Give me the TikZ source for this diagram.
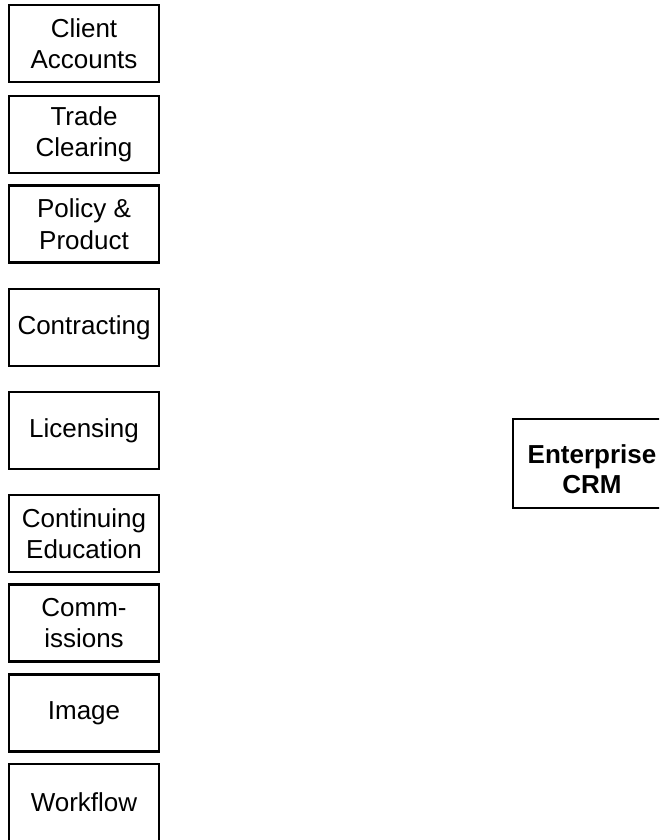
\documentclass[tikz,border=0pt]{standalone}
\usepackage{fontspec}
\setmainfont{Liberation Sans}
\tikzset{
  unit/.style={draw=black, line width=2.2pt, fill=white, minimum width=150pt,
    minimum height=77pt, inner sep=0pt, outer sep=0pt, align=center,
    font=\fontsize{26}{31.5}\selectfont},
  hub/.style={draw=black, line width=2.6pt, fill=white, minimum width=158pt,
    minimum height=89pt, inner sep=0pt, outer sep=0pt},
  hubtext/.style={inner sep=0pt, align=center,
    font=\fontsize{26}{30}\selectfont\bfseries}
}
\begin{document}
\begin{tikzpicture}[x=1pt,y=-1pt]
  \useasboundingbox (0,0) rectangle (659,840);
  \clip (0,0) rectangle (659,840);
  \fill[white] (0,0) rectangle (659,840);
  % column of source systems
  \node[unit] (accounts)    at (84,43.5)  {Client\\Accounts};
  \node[unit] (clearing)    at (84,134.5) {Trade\\Clearing};
  \node[unit] (policy)      at (84,224)   {Policy \&\\Product};
  \node[unit] (contracting) at (84,327.5) {Contracting};
  \node[unit] (licensing)   at (84,430.5) {Licensing};
  \node[unit] (education)   at (84,533.5) {Continuing\\Education};
  \node[unit] (commissions) at (84,623)   {Comm-\\issions};
  \node[unit] (image)       at (84,713)   {Image};
  \node[unit] (workflow)    at (84,802.5) {Workflow};
  % central CRM system, its label sitting a little low in the box
  \node[hub] (crm) at (592,463.5) {};
  \node[hubtext] (crmlabel) at ([yshift=-6pt]crm.center) {Enterprise\\CRM};
\end{tikzpicture}
\end{document}
